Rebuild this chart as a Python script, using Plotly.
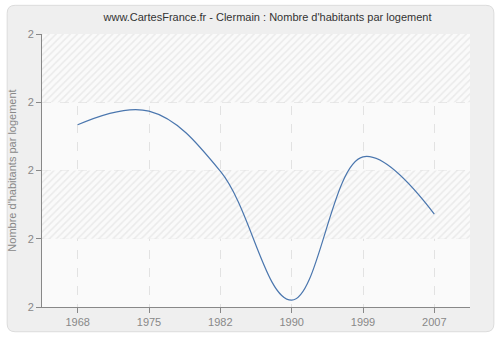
import plotly.graph_objects as go

# Census years and average number of inhabitants per dwelling
years = ["1968", "1975", "1982", "1990", "1999", "2007"]
habitants_par_logement = [2.067, 2.087, 1.999, 1.810, 2.020, 1.936]

y_min, y_max = 1.8, 2.2
y_ticks = [1.8, 1.9, 2.0, 2.1, 2.2]

W, H = 500, 340
L, R, T, B = 40, 30, 34, 30
pw, ph = W - L - R, H - T - B


def px_x(p):
    return (p - L) / pw


def px_y(p):
    return (H - B - p) / ph


fig = go.Figure()

# hatched bands behind the curve, on a hidden 0..1 base x axis
band_edges = [(2.1, 2.2), (1.9, 2.0)]
for lo, hi in band_edges:
    fig.add_trace(go.Scatter(
        x=[0, 1, 1, 0, 0], y=[lo, lo, hi, hi, lo], xaxis="x", yaxis="y",
        mode="lines", line=dict(width=0), fill="toself",
        fillcolor="rgba(250,250,250,1)",
        fillpattern=dict(shape="/", fgcolor="#dadada", bgcolor="#fafafa",
                         size=5, solidity=0.3),
        hoverinfo="skip", showlegend=False,
    ))

# the data curve on the visible category axis drawn on top
fig.add_trace(go.Scatter(
    x=years, y=habitants_par_logement, mode="lines", xaxis="x2", yaxis="y",
    line=dict(color="#4a76ae", width=1.2, shape="spline", smoothing=1.1),
    showlegend=False,
))

# rounded grey card behind the chart
r = 8
x0, x1 = px_x(5), px_x(494)
y0, y1 = px_y(335), px_y(5)
rx, ry = r / pw, r / ph
path = (f"M {x0+rx},{y0} L {x1-rx},{y0} Q {x1},{y0} {x1},{y0+ry} "
        f"L {x1},{y1-ry} Q {x1},{y1} {x1-rx},{y1} L {x0+rx},{y1} "
        f"Q {x0},{y1} {x0},{y1-ry} L {x0},{y0+ry} Q {x0},{y0} {x0+rx},{y0} Z")
fig.add_shape(type="path", path=path, xref="paper", yref="paper",
              fillcolor="#efefef", line=dict(color="#dcdcdc", width=1),
              layer="below")
fig.add_shape(type="rect", xref="paper", yref="paper", x0=0, x1=1, y0=0, y1=1,
              fillcolor="#fafafa", line=dict(width=0), layer="below")

font_family = "Liberation Sans, Arial, sans-serif"
fig.update_layout(
    width=W, height=H,
    margin=dict(l=L, r=R, t=T, b=B),
    paper_bgcolor="white",
    plot_bgcolor="rgba(0,0,0,0)",
    font=dict(family=font_family, size=11, color="#888888"),
    title=dict(text="www.CartesFrance.fr - Clermain : Nombre d'habitants par logement",
               x=0.535, xanchor="center", y=1 - 17 / H, yanchor="middle",
               font=dict(size=11, color="#333333", family=font_family)),
    xaxis=dict(range=[0, 1], visible=False, showgrid=False, zeroline=False),
    xaxis2=dict(type="category", range=[-0.5, 5.5], overlaying="x",
                side="bottom", anchor="y",
                showgrid=True, gridcolor="#e2e2e2", griddash="dash", gridwidth=1,
                showline=True, linecolor="#888888", linewidth=1,
                ticks="outside", ticklen=5, tickcolor="#888888",
                tickfont=dict(size=11, color="#888888"), zeroline=False),
    yaxis=dict(range=[y_min, y_max], tickvals=y_ticks, tickformat=".0f",
               showgrid=True, gridcolor="#e2e2e2", griddash="dash", gridwidth=1,
               showline=True, linecolor="#888888", linewidth=1,
               ticks="outside", ticklen=5, tickcolor="#888888",
               tickfont=dict(size=11, color="#888888"), zeroline=False,
               title=dict(text="Nombre d'habitants par logement",
                          font=dict(size=11, color="#888888"), standoff=8)),
)

fig.write_html("out.html")
